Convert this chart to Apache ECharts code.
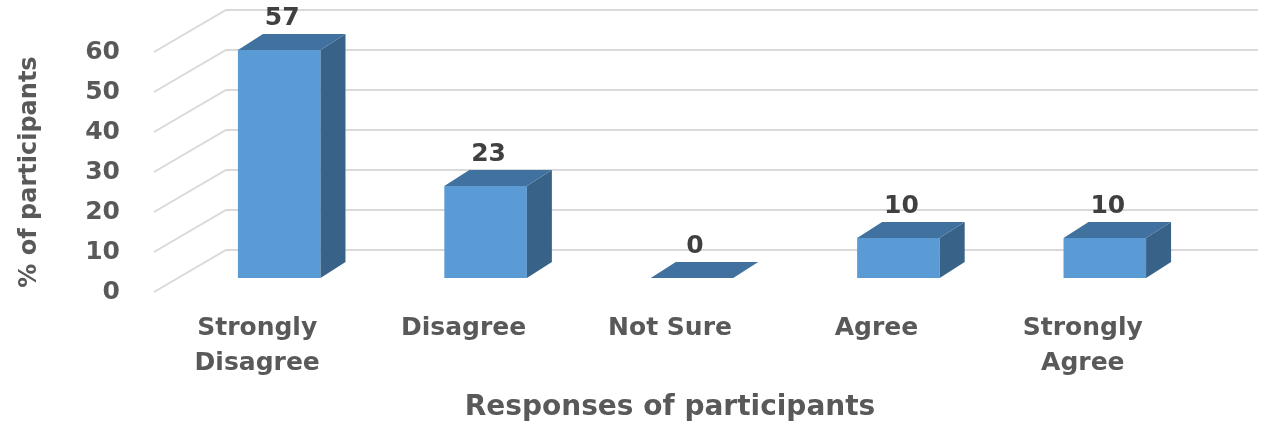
<!doctype html>
<html>
<head>
    <meta charset="utf-8">
    <title>Responses of participants</title>
    <!-- 引入 echarts.js -->
    <script src="https://cdn.jsdelivr.net/npm/echarts@6/dist/echarts.min.js"></script>
    <style>
        html, body { margin: 0; padding: 0; background: #fff; }
        #main { width: 1261px; height: 432px; }
    </style>
</head>
<body>
    <div id="main"></div>
<script type="text/javascript">
    // data
    var categories = ['Strongly\nDisagree', 'Disagree', 'Not Sure', 'Agree', 'Strongly\nAgree'];
    var percents = [57, 23, 0, 10, 10];
    var yTicks = [0, 10, 20, 30, 40, 50, 60];

    // 3D look: depth of the floor and of the bars, in pixels
    var WALL_DX = 72, WALL_DY = -42;
    var BAR_DX = 22, BAR_DY = -14;      // front face of bar behind the front edge
    var TOP_DX = 25, TOP_DY = -16;      // bar depth

    var FONT = 'DejaVu Sans';
    var myChart = echarts.init(document.getElementById('main'));

    // slanted side wall line + back wall line for every tick
    function renderWall(params, api) {
        var cs = params.coordSys;
        var y = api.coord([0, api.value(1)])[1];
        var x0 = cs.x;
        return {
            type: 'polyline',
            shape: { points: [[x0, y], [x0 + WALL_DX, y + WALL_DY], [x0 + cs.width + WALL_DX, y + WALL_DY]] },
            style: { stroke: '#d9d9d9', lineWidth: 2, fill: null },
            silent: true
        };
    }

    function renderBar(params, api) {
        var i = api.value(0), v = api.value(1);
        var base = api.coord([i, 0]);
        var top = api.coord([i, v]);
        var w = api.size([1, 0])[0] * 0.4;
        var cx = base[0] + BAR_DX;
        var yb = base[1] + BAR_DY;
        var yt = top[1] + BAR_DY;
        var l = cx - w / 2, r = cx + w / 2;
        var kids = [];
        if (v > 0) {
            kids.push({
                type: 'rect',
                shape: { x: l, y: yt, width: w, height: yb - yt },
                style: { fill: '#5b9bd5' }
            });
            kids.push({
                type: 'polygon',
                shape: { points: [[r, yt], [r, yb], [r + TOP_DX, yb + TOP_DY], [r + TOP_DX, yt + TOP_DY]] },
                style: { fill: '#386288' }
            });
        }
        kids.push({
            type: 'polygon',
            shape: { points: [[l, yt], [r, yt], [r + TOP_DX, yt + TOP_DY], [l + TOP_DX, yt + TOP_DY]] },
            style: { fill: '#41729f' }
        });
        kids.push({
            type: 'text',
            style: {
                text: String(v),
                x: cx + 3, y: yt + TOP_DY - 3,
                align: 'center', verticalAlign: 'bottom',
                font: 'bold 25px "' + FONT + '"',
                fill: '#404040'
            }
        });
        return { type: 'group', children: kids };
    }

    var option = {
        animation: false,
        grid: { left: 154, right: 75, top: 52, bottom: 140 },
        xAxis: {
            type: 'category',
            data: categories,
            axisLine: { show: false },
            axisTick: { show: false },
            axisLabel: {
                interval: 0,
                margin: 19,
                verticalAlign: 'top',
                lineHeight: 35,
                color: '#595959',
                fontFamily: FONT,
                fontWeight: 'bold',
                fontSize: 25
            },
            name: 'Responses of participants',
            nameLocation: 'middle',
            nameGap: 102,
            nameTextStyle: { color: '#595959', fontFamily: FONT, fontWeight: 'bold', fontSize: 28 }
        },
        yAxis: {
            type: 'value',
            min: 0,
            max: 60,
            interval: 10,
            axisLine: { show: false },
            axisTick: { show: false },
            splitLine: { show: false },
            axisLabel: {
                margin: 34,
                color: '#595959',
                fontFamily: FONT,
                fontWeight: 'bold',
                fontSize: 25
            },
            name: '% of participants',
            nameLocation: 'middle',
            nameGap: 112,
            nameTextStyle: { color: '#595959', fontFamily: FONT, fontWeight: 'bold', fontSize: 24 }
        },
        series: [
            {
                type: 'custom',
                name: 'walls',
                z: 1,
                renderItem: renderWall,
                data: yTicks.map(function (t) { return [0, t]; })
            },
            {
                type: 'custom',
                name: 'bars',
                z: 2,
                renderItem: renderBar,
                data: percents.map(function (p, i) { return [i, p]; })
            }
        ]
    };

    myChart.setOption(option);
</script>
</body>
</html>
